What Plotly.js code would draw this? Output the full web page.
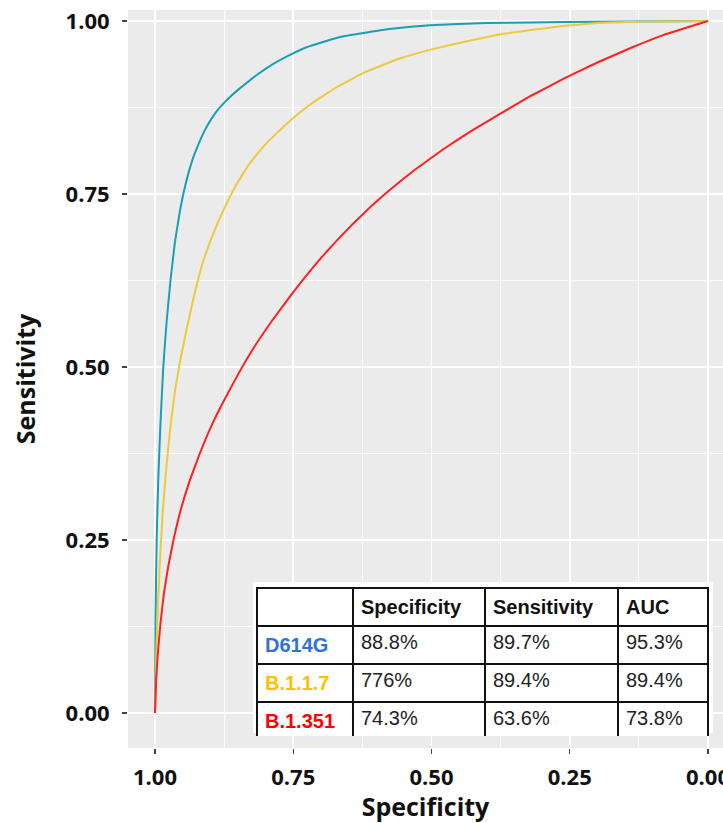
<!DOCTYPE html>
<html>
<head>
<meta charset="utf-8">
<script src="https://cdn.plot.ly/plotly-3.0.1.min.js"></script>
<style>
  html, body { margin: 0; padding: 0; background: #ffffff; }
  #chart { width: 723px; height: 823px; }
</style>
</head>
<body>
<div id="chart"></div>
<script>
// ROC curve for D614G (x = specificity, y = sensitivity)
const d614gSpecificity = [1.000, 0.999, 0.997, 0.994, 0.990, 0.985, 0.979, 0.972, 0.964, 0.955, 0.945, 0.932, 0.917, 0.910, 0.900, 0.890, 0.876, 0.862, 0.846, 0.832, 0.816, 0.786, 0.756, 0.726, 0.665, 0.580, 0.503, 0.400, 0.322, 0.200, 0.000];
const d614gSensitivity = [0.000, 0.140, 0.250, 0.340, 0.420, 0.500, 0.565, 0.625, 0.680, 0.725, 0.763, 0.800, 0.830, 0.842, 0.856, 0.868, 0.881, 0.892, 0.903, 0.912, 0.922, 0.938, 0.951, 0.962, 0.977, 0.988, 0.994, 0.997, 0.998, 0.999, 1.000];

// ROC curve for B.1.1.7
const b117Specificity = [1.000, 0.998, 0.995, 0.991, 0.986, 0.980, 0.972, 0.963, 0.953, 0.942, 0.929, 0.914, 0.896, 0.876, 0.854, 0.830, 0.800, 0.760, 0.720, 0.670, 0.620, 0.560, 0.500, 0.440, 0.380, 0.320, 0.260, 0.200, 0.130, 0.000];
const b117Sensitivity = [0.000, 0.080, 0.150, 0.220, 0.290, 0.350, 0.415, 0.470, 0.515, 0.558, 0.604, 0.650, 0.690, 0.727, 0.762, 0.793, 0.822, 0.853, 0.879, 0.905, 0.926, 0.945, 0.959, 0.970, 0.980, 0.987, 0.993, 0.997, 0.999, 1.000];

// ROC curve for B.1.351
const b1351Specificity = [1.000, 0.998, 0.995, 0.990, 0.984, 0.976, 0.966, 0.954, 0.938, 0.919, 0.898, 0.875, 0.850, 0.822, 0.790, 0.753, 0.710, 0.665, 0.620, 0.575, 0.530, 0.480, 0.430, 0.380, 0.320, 0.260, 0.200, 0.140, 0.080, 0.000];
const b1351Sensitivity = [0.000, 0.045, 0.085, 0.130, 0.172, 0.212, 0.252, 0.292, 0.334, 0.375, 0.415, 0.452, 0.489, 0.527, 0.565, 0.605, 0.648, 0.688, 0.724, 0.756, 0.785, 0.814, 0.840, 0.864, 0.892, 0.917, 0.940, 0.961, 0.980, 1.000];

// Axis ticks
const tickValues = [1.00, 0.75, 0.50, 0.25, 0.00];
const tickLabels = ["1.00", "0.75", "0.50", "0.25", "0.00"];
const minorTickValues = [0.875, 0.625, 0.375, 0.125];

// Summary table
const tableHeader = ["", "Specificity", "Sensitivity", "AUC"];
const variants = ["D614G", "B.1.1.7", "B.1.351"];
const specificityPct = ["88.8%", "776%", "74.3%"];
const sensitivityPct = ["89.7%", "89.4%", "63.6%"];
const aucPct = ["95.3%", "89.4%", "73.8%"];

const variantLabelColors = ["#2F75CF", "#FFC000", "#FF0000"];
const curveColors = ["#189FB6", "#EDC93C", "#FF2020"];

const curves = [
  [d614gSpecificity, d614gSensitivity],
  [b117Specificity, b117Sensitivity],
  [b1351Specificity, b1351Sensitivity]
];

const traces = curves.map((c, i) => ({
  type: 'scatter',
  mode: 'lines',
  x: c[0],
  y: c[1],
  name: variants[i],
  line: { color: curveColors[i], width: 2, shape: 'spline', smoothing: 0.3 },
  hoverinfo: 'skip',
  showlegend: false
}));

traces.push({
  type: 'table',
  domain: { x: [0.2168, 0.9748], y: [0.015, 0.2168] },
  columnwidth: [96, 132, 133, 90],
  header: {
    values: tableHeader.map(h => '<b>' + h + '</b>'),
    align: 'left',
    height: 35,
    fill: { color: '#ffffff' },
    line: { color: '#111111', width: 1.5 },
    font: { family: 'Liberation Sans, Arial, sans-serif', size: 20, color: '#111111' }
  },
  cells: {
    values: [variants.map(v => '<b>' + v + '</b>'), specificityPct, sensitivityPct, aucPct],
    align: 'left',
    height: 34.6,
    fill: { color: '#ffffff' },
    line: { color: '#111111', width: 1.5 },
    font: { family: 'Liberation Sans, Arial, sans-serif', size: 20, color: [variantLabelColors, '#222222', '#222222', '#222222'] }
  }
});

const tickFont = { family: 'Open Sans, sans-serif', size: 22, weight: 'bold', color: '#111111' };
const titleFont = { family: 'Open Sans, sans-serif', size: 25, weight: 'bold', color: '#111111' };

const layout = {
  width: 723,
  height: 823,
  margin: { l: 128, r: 0, t: 10, b: 75, pad: 0 },
  paper_bgcolor: '#ffffff',
  plot_bgcolor: '#EBEBEB',
  showlegend: false,
  xaxis: {
    range: [1.0488, -0.0271],
    tickvals: tickValues,
    ticktext: tickLabels,
    ticks: 'outside',
    ticklen: 5,
    tickwidth: 1.3,
    tickcolor: '#444444',
    ticklabelstandoff: 5,
    ticklabeloverflow: 'allow',
    tickfont: tickFont,
    showgrid: true,
    gridcolor: '#ffffff',
    gridwidth: 1.7,
    minor: { tickvals: minorTickValues, showgrid: true, gridcolor: '#ffffff', gridwidth: 0.8, ticks: '' },
    zeroline: false,
    showline: false,
    fixedrange: true,
    title: { text: 'Specificity', font: titleFont, standoff: 12 }
  },
  yaxis: {
    range: [-0.0506, 1.0159],
    tickvals: tickValues,
    ticktext: tickLabels,
    ticks: 'outside',
    ticklen: 5,
    tickwidth: 1.3,
    tickcolor: '#444444',
    ticklabelstandoff: 8,
    tickfont: tickFont,
    showgrid: true,
    gridcolor: '#ffffff',
    gridwidth: 1.7,
    minor: { tickvals: minorTickValues, showgrid: true, gridcolor: '#ffffff', gridwidth: 0.8, ticks: '' },
    zeroline: false,
    showline: false,
    fixedrange: true,
    title: { text: 'Sensitivity', font: titleFont, standoff: 22 }
  },
  shapes: [{
    type: 'rect',
    xref: 'paper', yref: 'paper',
    x0: 0.210, x1: 0.983, y0: 0.0203, y1: 0.2249,
    fillcolor: '#ffffff',
    line: { width: 0 },
    layer: 'below'
  }]
};

Plotly.newPlot('chart', traces, layout, { displayModeBar: false, staticPlot: true });
</script>
</body>
</html>
